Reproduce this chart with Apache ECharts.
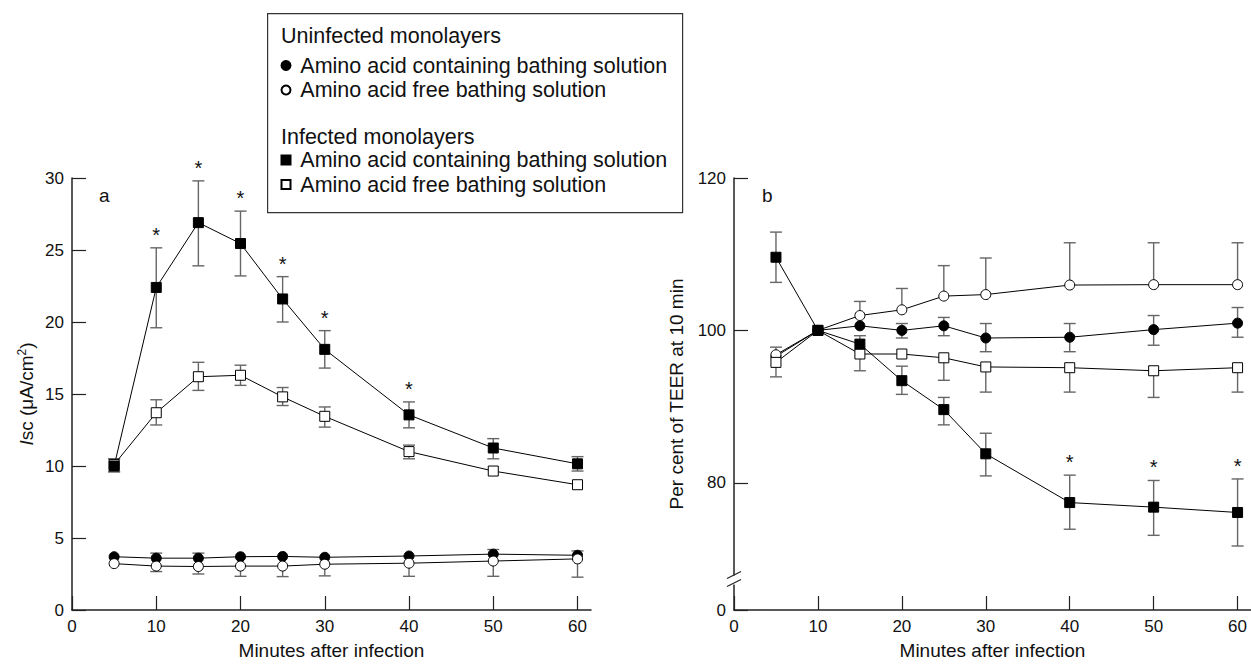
<!DOCTYPE html>
<html><head><meta charset="utf-8">
<script src="https://cdn.jsdelivr.net/npm/echarts@6/dist/echarts.min.js"></script>
<style>html,body{margin:0;padding:0;background:#fff}#c{width:1251px;height:665px}</style>
</head><body><div id="c"></div>
<script>
// ---------------- data ----------------
const minutes = [5, 10, 15, 20, 25, 30, 40, 50, 60];
const xTicks = [0, 10, 20, 30, 40, 50, 60];
const aTicks = [0, 5, 10, 15, 20, 25, 30];
// panel b: broken axis, the base of the axis is labelled 0
const bBase = 63.3;
const bTickValues = [bBase, 80, 100, 120];
const bTickLabels = ['0', '80', '100', '120'];

const groupNames = ['Uninfected monolayers', 'Infected monolayers'];
const solContain = 'Amino acid containing bathing solution';
const solFree = 'Amino acid free bathing solution';

// Panel a: Isc (uA/cm2)
const aUninfContain   = [3.70, 3.60, 3.60, 3.70, 3.72, 3.66, 3.75, 3.88, 3.80];
const aUninfContainHi = [null, 3.95, 3.95, null, null, null, null, 4.20, 4.10];
const aUninfContainLo = [null, null, null, null, null, null, null, null, null];
const aUninfFree      = [3.22, 3.05, 3.02, 3.05, 3.05, 3.18, 3.25, 3.40, 3.55];
const aUninfFreeHi    = [null, null, null, null, null, null, null, null, null];
const aUninfFreeLo    = [null, 2.67, 2.50, 2.34, 2.32, 2.37, 2.34, 2.34, 2.28];
const aInfContain     = [10.0, 22.4, 26.9, 25.45, 21.6, 18.1, 13.55, 11.25, 10.15];
const aInfContainHi   = [10.5, 25.15, 29.8, 27.7, 23.15, 19.4, 14.45, 11.9, 10.65];
const aInfContainLo   = [9.6, 19.6, 23.9, 23.2, 20.0, 16.8, 12.65, 10.5, 9.65];
const aInfFree        = [10.1, 13.7, 16.2, 16.3, 14.8, 13.45, 11.0, 9.65, 8.7];
const aInfFreeHi      = [10.5, 14.6, 17.2, 17.0, 15.45, 14.1, 11.45, null, null];
const aInfFreeLo      = [9.6, 12.85, 15.25, 15.6, 14.2, 12.7, 10.5, null, null];
const aSignificant    = [10, 15, 20, 25, 30, 40];

// Panel b: per cent of TEER at 10 min
const bUninfContain   = [96.6, 100, 100.6, 100.0, 100.6, 99.0, 99.1, 100.1, 100.95];
const bUninfContainHi = [null, null, null, 100.9, 101.7, 100.9, 100.9, 101.95, 103.0];
const bUninfContainLo = [null, null, null, 99.0, 99.3, 97.2, 97.2, 98.05, 99.1];
const bUninfFree      = [96.8, 100, 101.95, 102.7, 104.5, 104.7, 105.95, 106.0, 106.0];
const bUninfFreeHi    = [97.8, null, 103.8, 105.5, 108.5, 109.5, 111.5, 111.5, 111.5];
const bUninfFreeLo    = [null, null, null, null, null, null, null, null, null];
const bInfContain     = [109.6, 100, 98.2, 93.4, 89.6, 83.8, 77.4, 76.8, 76.1];
const bInfContainHi   = [112.9, null, 99.3, 95.3, 91.2, 86.5, 81.0, 80.3, 80.5];
const bInfContainLo   = [106.3, null, null, 91.6, 87.6, 80.9, 73.9, 73.1, 71.7];
const bInfFree        = [95.8, 100, 96.9, 96.9, 96.4, 95.2, 95.1, 94.7, 95.1];
const bInfFreeHi      = [null, null, null, null, null, null, null, null, null];
const bInfFreeLo      = [93.9, null, 94.7, null, 93.45, 91.9, 91.9, 91.2, 91.9];
const bSignificant    = [40, 50, 60];

// ---------------- styling ----------------
const FONT = 'Liberation Sans';
const INK = '#111';
const ERR = '#666';
const LEG_FS = 21.5;

function seriesName(g, s) { return g + '|' + s; }

function lineSeries(name, vals, symbol, filled, gi) {
  return {
    type: 'line', name: name, xAxisIndex: gi, yAxisIndex: gi,
    data: minutes.map((m, i) => [m, vals[i]]),
    symbol: symbol, symbolSize: 10,
    showAllSymbol: true,
    lineStyle: { color: '#000', width: 1 },
    itemStyle: { color: filled ? '#000' : '#fff', borderColor: '#000', borderWidth: 1 },
    emphasis: { disabled: true }, silent: true, z: 3
  };
}

function errSeries(vals, lo, hi, gi) {
  const data = [];
  minutes.forEach((m, i) => {
    if (lo[i] == null && hi[i] == null) return;
    data.push([m, vals[i], lo[i] == null ? vals[i] : lo[i], hi[i] == null ? vals[i] : hi[i]]);
  });
  return {
    type: 'custom', xAxisIndex: gi, yAxisIndex: gi, silent: true, z: 2,
    data: data, encode: { x: 0, y: [1, 2, 3] },
    renderItem: function (params, api) {
      const x = api.value(0), v = api.value(1), l = api.value(2), h = api.value(3);
      const pl = api.coord([x, l]), ph = api.coord([x, h]);
      const st = { stroke: ERR, lineWidth: 1.4 };
      const w = 6;
      const ch = [{ type: 'line', shape: { x1: pl[0], y1: pl[1], x2: ph[0], y2: ph[1] }, style: st }];
      if (h > v) ch.push({ type: 'line', shape: { x1: ph[0] - w, y1: ph[1], x2: ph[0] + w, y2: ph[1] }, style: st });
      if (l < v) ch.push({ type: 'line', shape: { x1: pl[0] - w, y1: pl[1], x2: pl[0] + w, y2: pl[1] }, style: st });
      return { type: 'group', children: ch };
    }
  };
}

function starSeries(sig, hi, gi) {
  return {
    type: 'custom', xAxisIndex: gi, yAxisIndex: gi, silent: true, z: 4,
    data: sig.map(m => [m, hi[minutes.indexOf(m)]]),
    renderItem: function (params, api) {
      const p = api.coord([api.value(0), api.value(1)]);
      return { type: 'text', x: p[0], y: p[1] - 13,
        style: { text: '*', fontSize: 20, fontFamily: FONT, fill: INK, align: 'center', verticalAlign: 'middle' } };
    }
  };
}

const breakSeries = {
  type: 'custom', xAxisIndex: 1, yAxisIndex: 1, silent: true, z: 6, clip: false,
  data: [[0, 67.3]],
  renderItem: function (params, api) {
    const p = api.coord([api.value(0), api.value(1)]);
    const x = p[0], y = p[1];
    const st = { stroke: '#222', lineWidth: 1.2 };
    return { type: 'group', children: [
      { type: 'rect', shape: { x: x - 3, y: y - 4, width: 6, height: 9 }, style: { fill: '#fff' } },
      { type: 'line', shape: { x1: x - 7, y1: y - 1, x2: x + 7, y2: y - 8 }, style: st },
      { type: 'line', shape: { x1: x - 7, y1: y + 7, x2: x + 7, y2: y }, style: st }
    ]};
  }
};

function baseAxis(extra) {
  return Object.assign({
    axisLine: { show: true, onZero: false, lineStyle: { color: '#222', width: 1.5 } },
    axisTick: { show: true, inside: true, length: 14, lineStyle: { color: '#222', width: 1.2 } },
    axisLabel: { color: INK, fontSize: 17, fontFamily: FONT, margin: 8 },
    splitLine: { show: false },
    nameTextStyle: { color: INK, fontSize: 19, fontFamily: FONT }
  }, extra);
}

function xAxis(gi) {
  return baseAxis({
    type: 'value', gridIndex: gi, min: 0, max: 61.6,
    name: 'Minutes after infection', nameLocation: 'middle', nameGap: 31,
    axisTick: { show: true, inside: true, length: 14, customValues: xTicks, lineStyle: { color: '#222', width: 1.2 } },
    axisLabel: { color: INK, fontSize: 17, fontFamily: FONT, margin: 8, customValues: xTicks }
  });
}

function legendBlock(group, icon, top) {
  return {
    orient: 'vertical', left: 280.5, top: top, padding: 0,
    itemWidth: 9, itemHeight: 9, itemGap: 2.5, selectedMode: false,
    data: [{ name: seriesName(group, solContain), icon: icon }, { name: seriesName(group, solFree), icon: icon }],
    formatter: n => ' ' + n.split('|')[1],
    textStyle: { color: INK, fontSize: LEG_FS, fontFamily: FONT }
  };
}

const option = {
  animation: false,
  backgroundColor: '#fff',
  grid: [
    { left: 72, top: 178, width: 519, height: 435 },
    { left: 734, top: 178, width: 519, height: 435 }
  ],
  xAxis: [xAxis(0), xAxis(1)],
  yAxis: [
    baseAxis({
      type: 'value', gridIndex: 0, min: 0, max: 30, interval: 5,
      name: '{it|I}sc (μA/cm{sup|2})', nameLocation: 'middle', nameGap: 36, nameRotate: 90,
      nameTextStyle: { color: INK, fontSize: 19, fontFamily: FONT,
        rich: { it: { fontStyle: 'italic', fontSize: 19, fontFamily: FONT, color: INK },
                sup: { fontSize: 12, fontFamily: FONT, color: INK, verticalAlign: 'top', padding: [0, 0, 8, 0] } } }
    }),
    baseAxis({
      type: 'value', gridIndex: 1, min: bBase, max: 120,
      name: 'Per cent of TEER at 10 min', nameLocation: 'middle', nameGap: 48, nameRotate: 90,
      axisTick: { show: true, inside: true, length: 14, customValues: bTickValues, lineStyle: { color: '#222', width: 1.2 } },
      axisLabel: { color: INK, fontSize: 17, fontFamily: FONT, margin: 8, customValues: bTickValues,
        formatter: function (v) { let k = 0, d = 1e9; bTickValues.forEach((t, i) => { if (Math.abs(t - v) < d) { d = Math.abs(t - v); k = i; } }); return bTickLabels[k]; } }
    })
  ],
  legend: [
    legendBlock(groupNames[0], 'circle', 54.5),
    legendBlock(groupNames[1], 'rect', 149)
  ],
  graphic: [
    { type: 'rect', left: 267, top: 13, shape: { width: 415, height: 199 }, style: { fill: 'transparent', stroke: '#333', lineWidth: 1.2 }, z: 1 },
    { type: 'text', left: 281, top: 25, style: { text: groupNames[0], fontSize: LEG_FS, fontFamily: FONT, fill: INK } },
    { type: 'text', left: 281, top: 126, style: { text: groupNames[1], fontSize: LEG_FS, fontFamily: FONT, fill: INK } },
    { type: 'text', left: 99, top: 186, style: { text: 'a', fontSize: 19, fontFamily: FONT, fill: INK } },
    { type: 'text', left: 762, top: 186, style: { text: 'b', fontSize: 19, fontFamily: FONT, fill: INK } }
  ],
  series: [
    errSeries(aUninfContain, aUninfContainLo, aUninfContainHi, 0),
    errSeries(aUninfFree, aUninfFreeLo, aUninfFreeHi, 0),
    errSeries(aInfContain, aInfContainLo, aInfContainHi, 0),
    errSeries(aInfFree, aInfFreeLo, aInfFreeHi, 0),
    lineSeries(seriesName(groupNames[0], solContain), aUninfContain, 'circle', true, 0),
    lineSeries(seriesName(groupNames[0], solFree), aUninfFree, 'circle', false, 0),
    lineSeries(seriesName(groupNames[1], solFree), aInfFree, 'rect', false, 0),
    lineSeries(seriesName(groupNames[1], solContain), aInfContain, 'rect', true, 0),
    starSeries(aSignificant, aInfContainHi, 0),

    errSeries(bUninfContain, bUninfContainLo, bUninfContainHi, 1),
    errSeries(bUninfFree, bUninfFreeLo, bUninfFreeHi, 1),
    errSeries(bInfContain, bInfContainLo, bInfContainHi, 1),
    errSeries(bInfFree, bInfFreeLo, bInfFreeHi, 1),
    lineSeries(seriesName(groupNames[0], solContain), bUninfContain, 'circle', true, 1),
    lineSeries(seriesName(groupNames[0], solFree), bUninfFree, 'circle', false, 1),
    lineSeries(seriesName(groupNames[1], solFree), bInfFree, 'rect', false, 1),
    lineSeries(seriesName(groupNames[1], solContain), bInfContain, 'rect', true, 1),
    starSeries(bSignificant, bInfContainHi, 1),
    breakSeries
  ]
};

const chart = echarts.init(document.getElementById('c'), null, { renderer: 'svg' });
chart.setOption(option);
</script>
</body></html>
